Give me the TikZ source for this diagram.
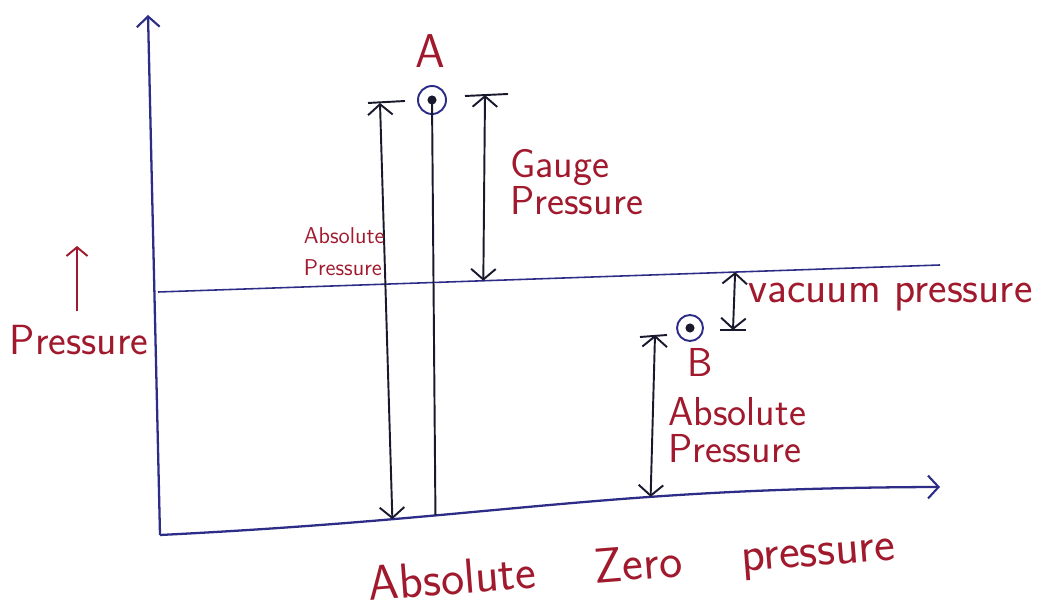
\documentclass[tikz,border=0pt]{standalone}
\usepackage{tikz}
\usepackage{xcolor}
\usetikzlibrary{calc,arrows.meta}
\definecolor{inkBlueColor}{RGB}{45,45,135}
\definecolor{inkRedColor}{RGB}{160,25,45}
\definecolor{inkBlackColor}{RGB}{25,25,45}

\begin{document}
\begin{tikzpicture}[
        x=0.02cm, y=0.02cm,
        axisline/.style={
                draw=inkBlueColor,
                line width=1.3pt,
                -{Straight Barb[length=6pt, width=13pt, line width=1.2pt]}
            },
        levelline/.style={draw=inkBlueColor, line width=0.9pt},
        dimline/.style={draw=inkBlackColor, line width=1.1pt},
        dimarrow/.style={
                draw=inkBlackColor,
                line width=1.1pt,
                {Straight Barb[length=6pt, width=14pt, line width=1.1pt]}-{Straight Barb[length=6pt, width=14pt, line width=1.1pt]}
            },
        redarrow/.style={
                draw=inkRedColor,
                line width=1.1pt,
                -{Straight Barb[length=5pt, width=12pt, line width=1.1pt]}
            },
        point/.style={
                draw=inkBlueColor,
                line width=1.1pt,
                circle,
                minimum size=0.56cm,
                inner sep=0pt
            },
        tag/.style={
                text=inkRedColor,
                font=\sffamily\fontsize{23}{21}\selectfont,
                align=left,
                inner sep=0pt
            },
        smalltag/.style={
                text=inkRedColor,
                font=\sffamily\fontsize{13}{18}\selectfont,
                align=left,
                inner sep=0pt
            }
    ]

    \def\dotr{2.6pt}
    \useasboundingbox (0,0) rectangle (1044,608);

    % ---- Axes ----
    \coordinate (origin) at (160,73);
    \coordinate (yTop) at (148,593);
    \coordinate (xEnd) at (940,121);
    \draw[axisline] (origin) -- (yTop);
    \draw[axisline] (origin) .. controls (500,90) and (600,120) .. (xEnd)
    coordinate[pos=0.27] (footAbsA)
    coordinate[pos=0.33] (footA)
    coordinate[pos=0.65] (footAbsB);

    % ---- Atmospheric line ----
    \coordinate (atmLeft) at (158,316);
    \coordinate (atmRight) at (940,343);
    \draw[levelline] (atmLeft) -- (atmRight)
    coordinate[pos=0.416] (atmGauge)
    coordinate[pos=0.738] (atmVac);

    % ---- Point A ----
    \node[point] (ptA) at (432,508) {};
    \fill[inkBlackColor] (ptA.center) circle (\dotr);
    \draw[dimline] (ptA.center) -- (footA);
    \node[tag, font=\sffamily\fontsize{27}{28}\selectfont] (labA) at ($(ptA.north)+(-2,34)$) {A};

    % absolute pressure of A
    \coordinate (absAtop) at (380,505);
    \draw[dimline] ($(absAtop)+(-12,0)$) -- ($(absAtop)+(25,2)$);
    \draw[dimarrow] (absAtop) -- (footAbsA);
    \node[smalltag, anchor=east] (absALabel) at (385,356) {Absolute\\Pressure};

    % gauge pressure of A
    \coordinate (gaugeTop) at (485,513);
    \draw[dimline] ($(gaugeTop)+(-20,-1)$) -- ($(gaugeTop)+(23,1)$);
    \draw[dimarrow] (gaugeTop) -- (atmGauge);
    \node[tag, anchor=west] (gaugeLabel) at (510,426) {Gauge\\Pressure};

    % ---- Point B ----
    \node[point, minimum size=0.52cm] (ptB) at (690,280) {};
    \fill[inkBlackColor] (ptB.center) circle (\dotr);
    \node[tag] (labB) at (700,246) {B};

    % vacuum pressure of B
    \coordinate (vacBottom) at (733,278);
    \draw[dimline] ($(vacBottom)+(-13,0)$) -- ($(vacBottom)+(13,0)$);
    \draw[dimarrow] (atmVac) -- (vacBottom);
    \node[tag, anchor=west, font=\sffamily\fontsize{25}{26}\selectfont] (vacLabel) at (748,311) {vacuum pressure};

    % absolute pressure of B
    \coordinate (absBtop) at (655,273);
    \draw[dimline] ($(absBtop)+(-15,-2)$) -- ($(absBtop)+(12,0)$);
    \draw[dimarrow] (absBtop) -- (footAbsB);
    \node[tag, anchor=west] (absBLabel) at (668,178) {Absolute\\Pressure};

    % ---- Pressure direction ----
    \node[tag, font=\sffamily\fontsize{24}{26}\selectfont] (pLabel) at (79,268) {Pressure};
    \coordinate (pTip) at (77,362);
    \draw[redarrow] ($(pLabel.north)+(-2,14)$) -- (pTip);

    % ---- Absolute zero ----
    \node[tag, font=\sffamily\fontsize{28}{30}\selectfont, rotate=4.5] (zeroLabel) at (632,40)
    {Absolute\hspace{1.2em}Zero\hspace{1.2em}pressure};
\end{tikzpicture}
\end{document}
